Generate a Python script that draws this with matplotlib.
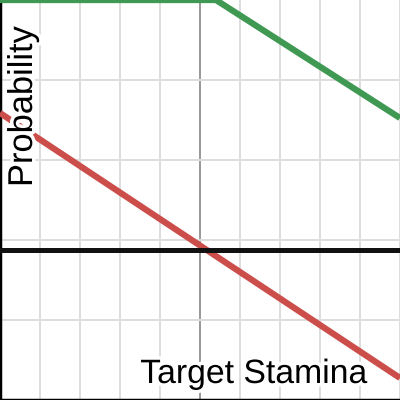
import matplotlib.pyplot as plt
import matplotlib.patheffects as pe

# values (x in grid units, y as probability)
green_x = [-5, 0.4, 5]
green_y = [1.0, 1.0, 0.705]
red_x = [-5, 5]
red_y = [0.7175, 0.055]
threshold = 0.375

x_ticks = [-4, -3, -2, -1, 0, 1, 2, 3, 4, 5]
y_ticks = [0.2, 0.4, 0.6, 0.8]

plt.rcParams["font.family"] = ["Liberation Sans", "DejaVu Sans"]

fig = plt.figure(figsize=(4, 4), dpi=100)
ax = fig.add_axes([0, 0, 1, 1])
ax.set_xlim(-5, 5)
ax.set_ylim(0, 1)

# grid
for xv in x_ticks:
    c = "#999999" if xv == 0 else "#dddddd"
    ax.axvline(xv, color=c, lw=1.4, zorder=1)
for yv in y_ticks:
    ax.axhline(yv, color="#dddddd", lw=1.4, zorder=1)

ax.plot(green_x, green_y, color="#3f9952", lw=4.5, zorder=3, solid_capstyle="butt")
ax.plot(red_x, red_y, color="#cb4e4a", lw=4.5, zorder=3, solid_capstyle="butt")
ax.axhline(threshold, color="#111111", lw=3.6, zorder=4)

ax.set_xticks([])
ax.set_yticks([])
for s in ["top", "right"]:
    ax.spines[s].set_visible(False)
for s in ["left", "bottom"]:
    ax.spines[s].set_color("black")
    ax.spines[s].set_linewidth(2.5)

halo = [pe.withStroke(linewidth=5, foreground="white")]
fig.text(367 / 400, 1 - 383 / 400, "Target Stamina", fontsize=24.3, ha="right",
         va="baseline", path_effects=halo, zorder=5)
fig.text(32 / 400, 1 - 187 / 400, "Probability", fontsize=24.8, rotation=90,
         rotation_mode="anchor", ha="left", va="baseline", path_effects=halo, zorder=5)

fig.savefig("out.png", dpi=100)
